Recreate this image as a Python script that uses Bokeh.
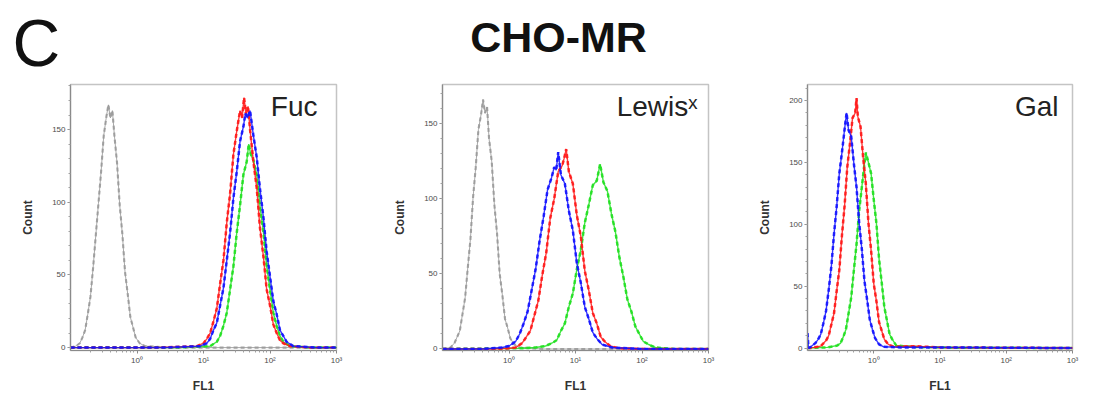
from bokeh.plotting import figure
from bokeh.models import Range1d, Label, FixedTicker, SingleIntervalTicker
from bokeh.layouts import column, row
from bokeh.embed import file_html
from bokeh.resources import INLINE

# ---------------- data (log10 FL1 position, event count) ----------------
FUC_GRAY_LOG = [-1.0, -0.92, -0.86, -0.82, -0.78, -0.74, -0.70, -0.66, -0.62, -0.58, -0.54, -0.50, -0.46, -0.43, -0.40, -0.37, -0.34, -0.30, -0.26, -0.22, -0.18, -0.14, -0.10, -0.06, -0.02, 0.04, 0.12, 0.5, 1.2, 3.0]
FUC_GRAY_COUNT = [0, 1, 3, 7, 12, 23, 35, 55, 77, 99, 121, 146, 159, 167, 158, 163, 146, 127, 98, 78, 52, 37, 21, 14, 7, 3, 1, 0, 0, 0]
FUC_RED_LOG = [-1.0, 0.3, 0.9, 1.0, 1.05, 1.1, 1.15, 1.2, 1.25, 1.3, 1.35, 1.4, 1.45, 1.5, 1.55, 1.58, 1.61, 1.64, 1.67, 1.7, 1.75, 1.8, 1.85, 1.9, 1.95, 2.0, 2.05, 2.1, 2.15, 2.2, 2.3, 2.6, 3.0]
FUC_RED_COUNT = [0, 0, 1, 3, 6, 10, 18, 27, 44, 60, 86, 106, 133, 149, 163, 158, 172, 160, 166, 150, 128, 110, 82, 63, 40, 29, 16, 10, 5, 3, 1, 0, 0]
FUC_BLUE_LOG = [-1.0, 0.4, 0.95, 1.05, 1.1, 1.15, 1.2, 1.25, 1.3, 1.35, 1.4, 1.45, 1.5, 1.55, 1.6, 1.63, 1.66, 1.7, 1.75, 1.8, 1.85, 1.9, 1.95, 2.0, 2.05, 2.1, 2.15, 2.2, 2.25, 2.35, 2.7, 3.0]
FUC_BLUE_COUNT = [0, 0, 1, 3, 6, 12, 17, 29, 41, 60, 79, 103, 121, 142, 152, 161, 158, 163, 146, 131, 109, 90, 66, 49, 32, 23, 12, 8, 4, 1, 0, 0]
FUC_GREEN_LOG = [-1.0, 0.6, 1.1, 1.2, 1.25, 1.3, 1.35, 1.4, 1.45, 1.5, 1.55, 1.6, 1.65, 1.68, 1.71, 1.75, 1.8, 1.85, 1.9, 1.95, 2.0, 2.05, 2.1, 2.15, 2.2, 2.3, 2.6, 3.0]
FUC_GREEN_COUNT = [0, 0, 1, 4, 8, 15, 24, 40, 56, 79, 98, 119, 128, 140, 133, 129, 119, 97, 80, 56, 40, 24, 15, 8, 4, 1, 0, 0]

LEWIS_GRAY_LOG = [-1.0, -0.88, -0.82, -0.78, -0.74, -0.70, -0.66, -0.62, -0.58, -0.54, -0.50, -0.46, -0.42, -0.39, -0.36, -0.33, -0.30, -0.26, -0.22, -0.18, -0.14, -0.10, -0.06, -0.02, 0.02, 0.08, 0.16, 0.5, 1.5, 3.0]
LEWIS_GRAY_COUNT = [0, 1, 4, 8, 12, 23, 34, 54, 73, 101, 121, 146, 156, 166, 157, 161, 140, 125, 96, 77, 50, 36, 20, 14, 7, 3, 1, 0, 0, 0]
LEWIS_BLUE_LOG = [-1.0, -0.4, -0.1, 0.0, 0.1, 0.16, 0.22, 0.28, 0.34, 0.40, 0.46, 0.52, 0.58, 0.64, 0.68, 0.71, 0.74, 0.78, 0.84, 0.90, 0.96, 1.02, 1.08, 1.14, 1.20, 1.26, 1.32, 1.40, 1.55, 2.0, 3.0]
LEWIS_BLUE_COUNT = [0, 0, 1, 2, 5, 10, 17, 25, 39, 53, 72, 88, 106, 114, 121, 119, 131, 116, 110, 92, 79, 57, 44, 28, 20, 11, 7, 3, 1, 0, 0]
LEWIS_RED_LOG = [-1.0, -0.3, 0.0, 0.1, 0.2, 0.26, 0.32, 0.38, 0.44, 0.50, 0.56, 0.62, 0.68, 0.74, 0.80, 0.83, 0.86, 0.90, 0.96, 1.02, 1.08, 1.14, 1.20, 1.26, 1.32, 1.38, 1.44, 1.52, 1.65, 2.1, 3.0]
LEWIS_RED_COUNT = [0, 0, 0.5, 1, 4, 8, 12, 22, 32, 49, 64, 87, 100, 118, 122, 127, 133, 118, 110, 89, 75, 52, 39, 24, 17, 8, 5, 2, 0.5, 0, 0]
LEWIS_GREEN_LOG = [-1.0, 0.2, 0.4, 0.55, 0.65, 0.72, 0.78, 0.84, 0.90, 0.96, 1.02, 1.08, 1.14, 1.20, 1.26, 1.32, 1.37, 1.42, 1.48, 1.54, 1.60, 1.66, 1.72, 1.78, 1.84, 1.90, 1.96, 2.02, 2.10, 2.20, 2.5, 3.0]
LEWIS_GREEN_COUNT = [0, 0.5, 1, 2, 4, 6, 12, 17, 28, 37, 53, 66, 84, 96, 109, 112, 123, 111, 105, 90, 78, 61, 48, 33, 25, 15, 10, 5, 3, 1, 0, 0]

GAL_BLUE_LOG = [-1.0, -0.985, -0.95, -0.88, -0.84, -0.80, -0.76, -0.72, -0.68, -0.64, -0.60, -0.56, -0.52, -0.48, -0.44, -0.41, -0.38, -0.34, -0.30, -0.26, -0.22, -0.18, -0.14, -0.10, -0.06, -0.02, 0.02, 0.08, 0.15, 0.4, 1.0, 3.0]
GAL_BLUE_COUNT = [12, 0, 1, 4, 7, 11, 20, 30, 47, 66, 92, 114, 141, 158, 177, 190, 176, 171, 149, 130, 101, 80, 54, 39, 23, 15, 8, 3, 1, 0.5, 0.5, 0]
GAL_RED_LOG = [-1.0, -0.9, -0.80, -0.72, -0.68, -0.64, -0.60, -0.56, -0.52, -0.48, -0.44, -0.40, -0.36, -0.32, -0.28, -0.26, -0.24, -0.20, -0.16, -0.12, -0.08, -0.04, 0.0, 0.04, 0.08, 0.12, 0.16, 0.22, 0.30, 0.6, 1.0, 3.0]
GAL_RED_COUNT = [0, 0.5, 1.5, 6, 10, 19, 28, 46, 63, 91, 115, 146, 165, 186, 190, 202, 187, 179, 154, 133, 101, 79, 52, 38, 21, 14, 7, 3, 1, 1.5, 0.5, 0]
GAL_GREEN_LOG = [-1.0, -0.7, -0.55, -0.50, -0.46, -0.42, -0.38, -0.34, -0.30, -0.26, -0.22, -0.18, -0.14, -0.12, -0.08, -0.04, 0.0, 0.04, 0.08, 0.12, 0.16, 0.20, 0.24, 0.28, 0.34, 0.45, 0.6, 1.2, 3.0]
GAL_GREEN_COUNT = [0, 0.5, 2, 4, 9, 15, 28, 41, 63, 84, 111, 130, 149, 158, 150, 141, 120, 101, 72, 53, 33, 22, 11, 7, 2, 1.5, 0.8, 0.3, 0]

PANEL_LABELS = ["Fuc", "Lewis\u02e3", "Gal"]
X_TICKS = [1, 10, 100, 1000]
X_TICK_LABELS = ["10\u2070", "10\u00b9", "10\u00b2", "10\u00b3"]
TITLE = "CHO-MR"
PANEL_LETTER = "C"

COLORS = {"gray": "#9a9a9a", "red": "#ff1a1a", "green": "#22e022", "blue": "#1414ff"}
FONT = "Liberation Sans"

x_minor = [m * 10.0 ** e for e in (-1, 0, 1, 2) for m in range(2, 10)]

HEADER_H = 78
PANEL_H = 318


def make_panel(width, left, right, y_start, y_end, label, label_dx, curves):
    p = figure(width=width, height=PANEL_H, x_axis_type="log",
               x_range=Range1d(0.1, 1000), y_range=Range1d(y_start, y_end),
               output_backend="svg", toolbar_location=None,
               min_border_left=left, min_border_right=right,
               min_border_top=6, min_border_bottom=46)
    p.xgrid.visible = False
    p.ygrid.visible = False
    p.background_fill_color = "white"
    p.border_fill_color = "white"
    p.outline_line_color = "#c4c4c4"
    p.outline_line_width = 1.5

    p.xaxis.ticker = FixedTicker(ticks=X_TICKS, minor_ticks=x_minor)
    p.xaxis.major_label_overrides = {t: s for t, s in zip(X_TICKS, X_TICK_LABELS)}
    p.yaxis.ticker = SingleIntervalTicker(interval=50, num_minor_ticks=5)
    for ax in (p.xaxis[0], p.yaxis[0]):
        ax.axis_line_color = "#8a8a8a"
        ax.axis_line_width = 1.2
        ax.major_tick_line_color = "#8a8a8a"
        ax.minor_tick_line_color = "#a0a0a0"
        ax.major_tick_out = 3
        ax.major_tick_in = 0
        ax.minor_tick_out = 2
        ax.minor_tick_in = 0
        ax.major_label_text_font = FONT
        ax.major_label_text_font_size = "8px"
        ax.major_label_text_color = "#4a4a4a"
        ax.major_label_standoff = 2
        ax.axis_label_text_font = FONT
        ax.axis_label_text_font_size = "12px"
        ax.axis_label_text_font_style = "bold"
        ax.axis_label_text_color = "#333333"
    p.xaxis.axis_label = "FL1"
    p.xaxis.axis_label_standoff = 11
    p.yaxis.axis_label = "Count"
    p.yaxis.axis_label_standoff = 14

    for logs, counts, color in curves:
        xs = [10.0 ** v for v in logs]
        w = 1.0 if color == "gray" else 1.4
        p.line(xs, counts, line_color=COLORS[color], line_width=w, line_alpha=0.85)
        p.line(xs, counts, line_color=COLORS[color], line_width=w + 1.1,
               line_dash="4 3", line_alpha=0.9)

    p.add_layout(Label(x=1000, y=y_end, x_offset=label_dx, y_offset=-22, text=label,
                       text_align="right", text_baseline="alphabetic",
                       text_font=FONT, text_font_size="28px", text_color="#222222"))
    return p


p1 = make_panel(390, 70, 54, -2, 181, PANEL_LABELS[0], -19, [
    (FUC_GRAY_LOG, FUC_GRAY_COUNT, "gray"),
    (FUC_GREEN_LOG, FUC_GREEN_COUNT, "green"),
    (FUC_RED_LOG, FUC_RED_COUNT, "red"),
    (FUC_BLUE_LOG, FUC_BLUE_COUNT, "blue"),
])
p2 = make_panel(360, 52, 42, -1, 176, PANEL_LABELS[1], -11, [
    (LEWIS_GRAY_LOG, LEWIS_GRAY_COUNT, "gray"),
    (LEWIS_GREEN_LOG, LEWIS_GREEN_COUNT, "green"),
    (LEWIS_RED_LOG, LEWIS_RED_COUNT, "red"),
    (LEWIS_BLUE_LOG, LEWIS_BLUE_COUNT, "blue"),
])
p3 = make_panel(340, 57, 18, -2, 213, PANEL_LABELS[2], -14, [
    (GAL_GREEN_LOG, GAL_GREEN_COUNT, "green"),
    (GAL_RED_LOG, GAL_RED_COUNT, "red"),
    (GAL_BLUE_LOG, GAL_BLUE_COUNT, "blue"),
])

header = figure(width=1090, height=HEADER_H, x_range=Range1d(0, 1090), y_range=Range1d(0, HEADER_H),
                x_axis_location=None, y_axis_location=None, min_border=0,
                output_backend="svg", toolbar_location=None)
header.xgrid.visible = False
header.ygrid.visible = False
header.outline_line_color = None
header.add_layout(Label(x=12, y=36, text=PANEL_LETTER, text_font=FONT,
                        text_font_size="66px", text_color="#111111",
                        text_baseline="alphabetic"))
header.add_layout(Label(x=558, y=42, text=TITLE, text_font=FONT,
                        text_font_size="43px", text_font_style="bold",
                        text_color="#111111", text_align="center",
                        text_baseline="alphabetic"))

layout = column(header, row(p1, p2, p3))
open("out.html", "w").write(file_html(layout, INLINE))
